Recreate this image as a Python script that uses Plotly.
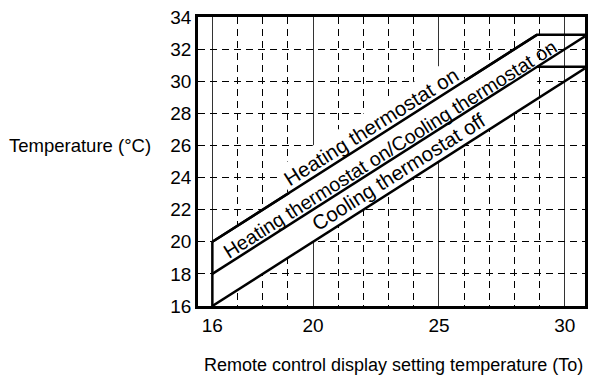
import plotly.graph_objects as go

# --- data ---
x_ticks = [16, 20, 25, 30]
y_ticks = [16, 18, 20, 22, 24, 26, 28, 30, 32, 34]

# upper boundary (heating thermostat on), with its flat top
top_x = [16, 28.9, 30.8]
top_y = [20, 32.9, 32.9]
# middle boundary
mid_x = [16, 30.8]
mid_y = [18, 32.8]
# flat step of the lower boundary
step_x = [28.9, 30.8]
step_y = [30.9, 30.9]
# lower boundary (cooling thermostat off)
low_x = [16, 30.8]
low_y = [16, 30.8]
# left edge of the band
edge_x = [16, 16]
edge_y = [16, 20]

labels = ["Heating thermostat on",
          "Heating thermostat on/Cooling thermostat on",
          "Cooling thermostat off"]
label_x = [22.3, 23.05, 23.39]
label_y = [27.2, 25.78, 24.39]
label_size = [20.5, 19.6, 20.5]

fig = go.Figure()

# white band covering the grid
band_x = [low_x[0], edge_x[1], top_x[1], top_x[1]]
band_y = [low_y[0], edge_y[1], top_y[1], top_x[1]]
fig.add_trace(go.Scatter(x=band_x + [band_x[0]], y=band_y + [band_y[0]], fill='toself',
                         fillcolor='white', mode='lines', line=dict(width=0),
                         hoverinfo='skip'))

line_style = dict(color='black', width=2.5)
for xs, ys in [(top_x, top_y), (mid_x, mid_y), (step_x, step_y), (low_x, low_y), (edge_x, edge_y)]:
    fig.add_trace(go.Scatter(x=xs, y=ys, mode='lines', line=line_style, hoverinfo='skip'))

# label above the band sits on a white patch that hides the grid
fig.add_annotation(x=label_x[0], y=label_y[0], text=labels[0], showarrow=False,
                   textangle=-32.3, font=dict(size=label_size[0], color='black'),
                   bgcolor='white', borderpad=3)
# redraw the upper boundary over that patch
fig.add_annotation(x=top_x[1], y=top_y[1], ax=top_x[0], ay=top_y[0], axref='x', ayref='y',
                   text='', showarrow=True, arrowhead=0, arrowwidth=2.5, arrowcolor='black',
                   standoff=0, startstandoff=0, borderpad=0)
for txt, lx, ly, sz in zip(labels[1:], label_x[1:], label_y[1:], label_size[1:]):
    fig.add_annotation(x=lx, y=ly, text=txt, showarrow=False, textangle=-32.3,
                       font=dict(size=sz, color='black'))

font = "Liberation Sans, Arial, sans-serif"
fig.add_annotation(xref='paper', yref='paper', x=-0.115, y=0.557, xanchor='right',
                   yanchor='middle', text="Temperature (°C)", showarrow=False,
                   font=dict(size=18.5, color='black'))
fig.add_annotation(xref='paper', yref='paper', x=1.0, y=-0.205, xanchor='right',
                   yanchor='middle', text="Remote control display setting temperature (To)",
                   showarrow=False, font=dict(size=18, color='black'))

fig.update_xaxes(range=[15.43, 30.8], tickvals=x_ticks, showgrid=True, gridcolor='#333',
                 gridwidth=1, showline=True, mirror=True, linecolor='black', linewidth=2.5,
                 ticks='', zeroline=False, tickfont=dict(size=19, color='black'),
                 ticklabeloverflow='allow',
                 minor=dict(tick0=16, dtick=1, showgrid=True, griddash='7px,5px',
                            gridcolor='black', gridwidth=1))
fig.update_yaxes(range=[16, 34], tickvals=y_ticks, showgrid=True, griddash='7px,5px',
                 gridcolor='black', gridwidth=1, showline=True, mirror=True,
                 linecolor='black', linewidth=2.5, ticks='', zeroline=False,
                 ticklabeloverflow='allow', tickfont=dict(size=19, color='black'))

fig.update_layout(width=590, height=381, margin=dict(l=198, r=2, t=17, b=75),
                  plot_bgcolor='white', paper_bgcolor='white', showlegend=False,
                  font=dict(family=font, color='black'))

# drop the page's default body margin so the figure sits at the window's corner
fig.write_html("out.html", config={'displayModeBar': False},
               post_script="document.body.style.margin='0';")
